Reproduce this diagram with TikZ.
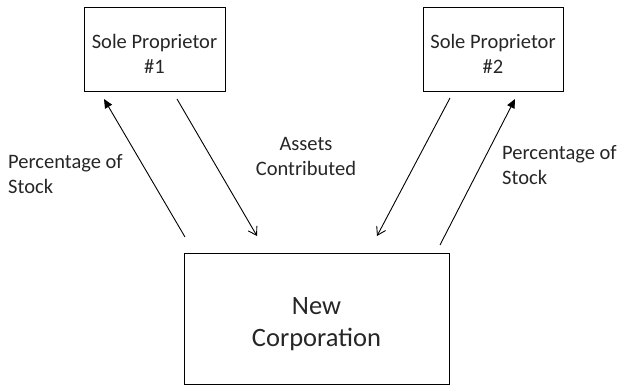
\documentclass[tikz,border=0pt]{standalone}
\usepackage{fontspec}
\setmainfont{Carlito}
\usetikzlibrary{arrows.meta}
\definecolor{ink}{RGB}{38,38,38}
\begin{document}
\begin{tikzpicture}[x=1pt,y=-1pt,
  box/.style={draw=black,line width=1pt,inner sep=0pt},
  small/.style={inner sep=0pt,text=ink,font=\fontsize{20.5}{25}\selectfont},
  big/.style={inner sep=0pt,text=ink,font=\fontsize{26.5}{32}\selectfont},
  giveflow/.style={line width=0.9pt,-{Straight Barb[length=8pt,width=10pt,line width=0.9pt]}},
  stockflow/.style={line width=0.9pt,-{Triangle[length=9pt,width=8pt]}}]
\useasboundingbox (0,0) rectangle (622,385);

% parties (frames, then their captions)
\node[box,minimum width=141pt,minimum height=84pt] (sp1) at (154.5,50) {};
\node[box,minimum width=140pt,minimum height=84pt] (sp2) at (493,50) {};
\node[box,minimum width=265pt,minimum height=130pt] (nc) at (316.5,319) {};
\node[small,align=center] (sp1t) at ([yshift=-4pt]sp1.center) {Sole Proprietor\\\#1};
\node[small,align=center] (sp2t) at ([yshift=-4pt]sp2.center) {Sole Proprietor\\\#2};
\node[big,align=center]   (nct)  at ([yshift=-5pt]nc.center)  {New\\Corporation};

% arrow end points
\coordinate (s1tail) at (185,237);
\coordinate (s1tip)  at (104,99);
\coordinate (a1tail) at (177,99);
\coordinate (a1tip)  at (257,236);
\coordinate (a2tail) at (450,98);
\coordinate (a2tip)  at (377,236);
\coordinate (s2tail) at (440,245);
\coordinate (s2tip)  at (515,99);

\draw[stockflow] (s1tail) -- (s1tip);
\draw[giveflow]  (a1tail) -- (a1tip);
\draw[giveflow]  (a2tail) -- (a2tip);
\draw[stockflow] (s2tail) -- (s2tip);

% labels
\node[small,align=left,anchor=west] (l1) at (8,174)   {Percentage of\\Stock};
\node[small,align=center]           (l2) at (306,156) {Assets\\Contributed};
\node[small,align=left,anchor=west] (l3) at (502,165) {Percentage of\\Stock};
\end{tikzpicture}
\end{document}
